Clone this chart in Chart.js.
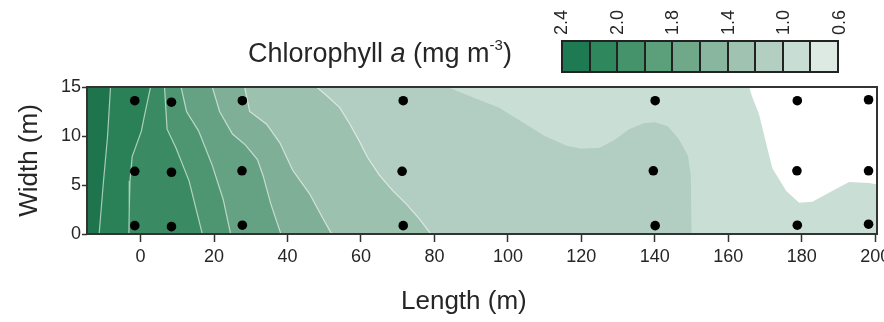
<!DOCTYPE html>
<html><head><meta charset="utf-8">
<script src="https://cdn.jsdelivr.net/npm/chart.js@4.4.1/dist/chart.umd.min.js"></script>
<style>
html,body{margin:0;padding:0;background:#fff;overflow:hidden;width:884px;height:322px;}
#wrap{position:relative;width:900px;height:322px;font-family:"Liberation Sans",Arial,Helvetica,sans-serif;color:#262626;}
#c{position:absolute;left:0;top:0;}
.t{position:absolute;white-space:nowrap;}
#cbar{position:absolute;left:561px;top:40px;width:278px;height:33px;box-sizing:border-box;border:2px solid #222;display:flex;}
</style></head><body>
<div id="wrap">
<canvas id="c" width="900" height="322"></canvas>
<div class="t" id="title" style="left:248px;top:40px;font-size:27px;line-height:27px;">Chlorophyll <i>a</i> (mg m<sup style="font-size:15px;vertical-align:12px;line-height:0">-3</sup>)</div>
<div class="t" id="xtitle" style="left:401px;top:287px;font-size:26px;line-height:26px;">Length (m)</div>
<div id="cbar"></div>
</div>
<script>
// ---- data ----
const xTicks = [0, 20, 40, 60, 80, 100, 120, 140, 160, 180, 200];
const yTicks = [0, 5, 10, 15];
const legendLabels = ['2.4', '2.0', '1.8', '1.4', '1.0', '0.6'];
const legendColors = ['#1e7a52', '#2f875d', '#45936a', '#5b9f7b', '#6fa989', '#88b69f', '#9fc3b0', '#b3cfc2', '#c8ddd3', '#dde9e3'];
const regionColors = ['#1d744d', '#2b8157', '#3a8b63', '#4e9672', '#65a284', '#7fb097', '#9cc1ae', '#b2cdc1', '#c9ded5'];

// sampling stations (length m, width m)
const sampleLength = [-1.6, 8.4, 27.7, 71.5, 140.1, 178.8, 198.2,
                      -1.6, 8.4, 27.6, 71.2, 139.6, 178.7, 198.2,
                      -1.6, 8.4, 27.7, 71.5, 140.1, 178.8, 198.2];
const sampleWidth  = [13.6, 13.45, 13.6, 13.6, 13.6, 13.6, 13.7,
                      6.4, 6.3, 6.45, 6.4, 6.45, 6.45, 6.45,
                      0.85, 0.75, 0.9, 0.85, 0.85, 0.9, 1.0];

// contour boundaries [length, width], from the upper bank downwards
const contour1 = [[-8.2,15],[-9.0,10],[-10.2,5],[-11.3,0]];
const contour2 = [[2.7,15],[1.0,12],[0.2,10.5],[-2.3,7.9],[-2.9,5.4],[-3.1,2.5],[-3.2,0]];
const contour3 = [[6.5,15],[7.2,10.7],[9.6,8.8],[13.2,5.4],[16.8,0]];
const contour4 = [[11,15],[12.5,12.5],[15.8,10.5],[19.5,7],[22.5,3.5],[24.5,0]];
const contour5 = [[19.5,15],[21.5,12.5],[25,10.2],[28.5,9.1],[31.8,7.6],[33.3,6],[35.5,3],[38.2,0]];
const contour6 = [[28.3,15],[29.7,12.5],[34.3,11.2],[37.9,9.3],[41.4,6.5],[46,4.1],[49.6,1.6],[52,0]];
const contour7 = [[47.9,15],[51,14],[54.2,12.9],[57,11.2],[59.5,9.5],[61.8,7.8],[65,6],[68.7,4.4],[72.5,3.0],[76,1.5],[79,0]];
const contour8 = [[83.5,15],[90,14],[97.5,12.9],[104,11.4],[110,10],[116,9],[120,8.7],[125,8.8],[129,9.6],[133,10.7],[137,11.3],[140,11.4],[143.5,11],[146.5,9.7],[149,8],[149.8,6],[150,0]];
const contour9 = [[165.7,15],[166.5,14],[168.4,12.2],[170.6,8.8],[172,6.7],[175.8,4.4],[179.3,3.2],[182.9,3.3],[188.3,4.4],[192.9,5.3],[198.4,5.2],[201,5.0]];
const contours = [contour1, contour2, contour3, contour4, contour5, contour6, contour7, contour8, contour9];
const contourLineVisible = [true, true, true, true, true, true, true, false, false];

// ---- build ----
function region(b) {
  const first = b[0], last = b[b.length - 1];
  const pts = [{x: -30, y: 18}, {x: first[0], y: 18}];
  b.forEach(p => pts.push({x: p[0], y: p[1]}));
  if (last[1] > 0) { pts.push({x: 215, y: last[1]}); pts.push({x: 215, y: -3}); }
  else pts.push({x: last[0], y: -3});
  pts.push({x: -30, y: -3}, {x: -30, y: 18});
  return pts;
}

const datasets = [{
  label: 'stations',
  data: sampleLength.map((x, i) => ({x: x, y: sampleWidth[i]})),
  showLine: false,
  pointRadius: 4.8,
  pointBackgroundColor: '#000',
  pointBorderWidth: 0,
  order: 0
}];
contours.forEach((b, i) => {
  datasets.push({
    label: 'level' + (i + 1),
    data: region(b),
    showLine: true,
    fill: 'shape',
    backgroundColor: regionColors[i],
    borderColor: contourLineVisible[i] ? 'rgba(255,255,255,0.6)' : 'rgba(0,0,0,0)',
    borderWidth: contourLineVisible[i] ? 1.2 : 0,
    pointRadius: 0,
    pointHitRadius: 0,
    tension: 0,
    clip: 0,
    order: i + 1
  });
});

const framePlugin = {
  id: 'frame',
  afterDatasetsDraw(chart) {
    const {ctx, chartArea: a} = chart;
    ctx.save();
    ctx.strokeStyle = '#333';
    ctx.lineWidth = 2;
    ctx.strokeRect(a.left, a.top, a.right - a.left, a.bottom - a.top);
    ctx.restore();
  }
};

const fontFam = '"Liberation Sans", Arial, Helvetica, sans-serif';
new Chart(document.getElementById('c'), {
  type: 'line',
  data: {datasets: datasets},
  options: {
    responsive: false,
    animation: false,
    events: [],
    layout: {padding: {top: 87, right: 23, bottom: 0, left: 0}},
    plugins: {legend: {display: false}, tooltip: {enabled: false}},
    scales: {
      x: {
        type: 'linear', min: -14.6, max: 200.5,
        afterBuildTicks: s => { s.ticks = xTicks.map(v => ({value: v})); },
        afterFit: s => { s.height = 88; },
        grid: {drawOnChartArea: false, drawTicks: true, tickLength: 8, tickColor: '#333', tickWidth: 1.5},
        border: {display: false},
        ticks: {padding: 4.5, maxRotation: 0, autoSkip: false, color: '#262626', font: {size: 18, family: fontFam}, callback: v => String(v)}
      },
      y: {
        type: 'linear', min: 0, max: 15,
        afterBuildTicks: s => { s.ticks = yTicks.map(v => ({value: v})); },
        afterFit: s => { s.width = 87; },
        grid: {drawOnChartArea: false, drawTicks: true, tickLength: 5, tickColor: '#333', tickWidth: 1.5},
        border: {display: false},
        ticks: {padding: 1, color: '#262626', font: {size: 18, family: fontFam}, callback: v => String(v)},
        title: {display: true, text: 'Width (m)', color: '#262626', font: {size: 26, family: fontFam}, padding: {top: 14, bottom: 0}}
      }
    }
  },
  plugins: [framePlugin]
});

// colour bar legend
const wrap = document.getElementById('wrap');
const cbar = document.getElementById('cbar');
legendColors.forEach((c, i) => {
  const d = document.createElement('div');
  d.style.cssText = 'flex:1;background:' + c + ';border-left:' + (i ? 2 : 0) + 'px solid #222;';
  cbar.appendChild(d);
});
const cellW = 278 / legendColors.length;
legendLabels.forEach((t, i) => {
  const s = document.createElement('span');
  s.className = 't';
  s.textContent = t;
  s.style.cssText = 'font-size:18px;line-height:18px;left:' + (561 + i * 2 * cellW - 9) + 'px;top:35px;transform-origin:0 0;transform:rotate(-90deg);';
  wrap.appendChild(s);
});
</script>
</body></html>
